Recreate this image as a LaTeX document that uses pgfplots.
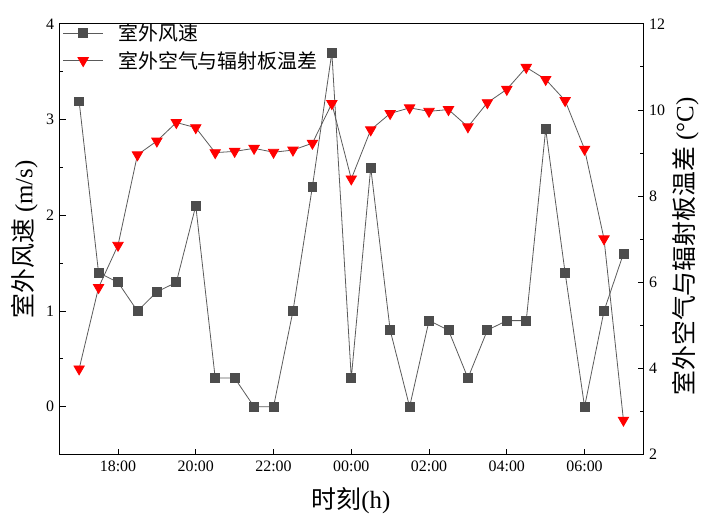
\documentclass[border=0pt]{standalone}
\usepackage{pgfplots}
\pgfplotsset{compat=1.18}
\usepackage{fontspec}
\setmainfont{Liberation Serif}
\newfontfamily\cjk{Noto Sans CJK SC}
\definecolor{sq}{RGB}{77,77,77}
\definecolor{ln}{RGB}{90,90,90}
\begin{document}
\begin{tikzpicture}
\pgfplotsset{
  common/.style={
    scale only axis, width=587pt, height=433pt,
    xmin=16.5, xmax=31.52,
    tick align=inside,
    /pgf/number format/assume math mode=true,
    tick label style={font=\fontsize{16}{18}\selectfont},
    axis line style={line width=1.2pt},
    major tick length=6pt, minor tick length=3.5pt,
    every tick/.style={line width=1pt, black},
  }
}
\begin{axis}[common,
  ymin=-0.5, ymax=4,
  ytick={0,1,2,3,4}, minor ytick={-0.5,0.5,1.5,2.5,3.5},
  ytick pos=left, xtick pos=bottom,
  xtick={18,20,22,24,26,28,30},
  xticklabels={18:00,20:00,22:00,00:00,02:00,04:00,06:00},
  xticklabel style={yshift=-3pt},
  yticklabel style={xshift=-2pt},
  xlabel={{\cjk 时刻}(h)},
  xlabel style={font=\fontsize{25}{28}\selectfont, at={(axis description cs:0.499,-0.106)}, anchor=center},
  ylabel={{\cjk 室外风速} (m/s)},
  ylabel style={font=\fontsize{25}{28}\selectfont, at={(axis description cs:-0.0605,0.5)}, anchor=center},
]
\addplot[color=ln, line width=0.8pt, mark=square*, mark size=4.5pt, mark options={fill=sq, draw=sq, solid}] coordinates {
(17,3.19)(17.5,1.4)(18,1.3)(18.5,1.0)(19,1.2)(19.5,1.3)(20,2.1)(20.5,0.3)(21,0.3)(21.5,0)(22,0)(22.5,1.0)(23,2.3)(23.5,3.7)
(24,0.3)(24.5,2.5)(25,0.8)(25.5,0)(26,0.9)(26.5,0.8)(27,0.3)(27.5,0.8)(28,0.9)(28.5,0.9)(29,2.9)(29.5,1.4)(30,0)(30.5,1.0)(31,1.6)};
\end{axis}
\begin{axis}[common,
  axis x line=none, axis y line*=right,
  ymin=2, ymax=12,
  ytick={2,4,6,8,10,12}, minor ytick={3,5,7,9,11},
  yticklabel style={xshift=2pt},
  ylabel={{\cjk 室外空气与辐射板温差} (°C)},
  ylabel style={font=\fontsize{25}{28}\selectfont, at={(axis description cs:1.0716,0.483)}, anchor=center, rotate=0},
  legend style={at={(axis description cs:0.0,1.0)}, anchor=north west, yshift=4pt, draw=none, fill=none,
    font=\cjk\fontsize{20}{22}\selectfont, row sep=5pt, inner xsep=3pt, inner ysep=2pt},
  legend cell align=left,
  legend image code/.code={
    \draw[#1] (0pt,0pt) -- (40pt,0pt);
    \draw[#1, only marks] plot coordinates {(20pt,0pt)};
    \path (53pt,0pt);
  },
]
\addlegendimage{color=ln, line width=0.8pt, mark=square*, mark size=4.5pt, mark options={fill=sq, draw=sq, solid}}
\addlegendentry{室外风速}
\addplot[color=ln, line width=0.8pt, mark=triangle*, mark size=6pt, mark options={fill=red, draw=red, rotate=180, solid}] coordinates {
(17,3.99)(17.5,5.88)(18,6.86)(18.5,8.96)(19,9.28)(19.5,9.71)(20,9.59)(20.5,9.01)(21,9.04)(21.5,9.11)(22,9.02)(22.5,9.07)(23,9.23)(23.5,10.15)
(24,8.40)(24.5,9.54)(25,9.92)(25.5,10.05)(26,9.97)(26.5,10.01)(27,9.61)(27.5,10.17)(28,10.48)(28.5,10.99)(29,10.71)(29.5,10.22)(30,9.09)(30.5,7.01)(31,2.80)};
\addlegendentry{室外空气与辐射板温差}
\end{axis}
\path (-60pt,-59pt) rectangle (642pt,457pt);
\end{tikzpicture}
\end{document}
